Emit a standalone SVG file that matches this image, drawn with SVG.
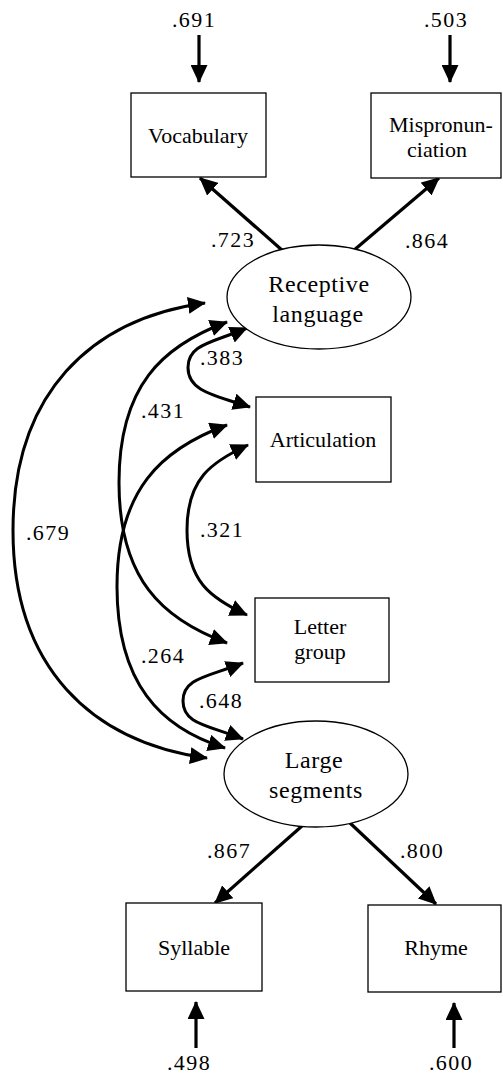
<svg xmlns="http://www.w3.org/2000/svg" width="503" height="1076" viewBox="0 0 503 1076">
<style>
.box{fill:#fff;stroke:#000;stroke-width:1.3}
.ell{fill:#fff;stroke:#000;stroke-width:1.3}
.t{font-family:"Liberation Serif","Times New Roman",serif;font-size:22px;fill:#000;text-anchor:middle}
.te{font-family:"Liberation Serif","Times New Roman",serif;font-size:24px;letter-spacing:0.6px;fill:#000;text-anchor:middle}
.n{font-family:"Liberation Serif","Times New Roman",serif;font-size:22px;letter-spacing:1.4px;fill:#000;text-anchor:middle}
.s{fill:none;stroke:#000;stroke-width:3.2;marker-end:url(#ah)}
.c{fill:none;stroke:#000;stroke-width:3;marker-start:url(#ah);marker-end:url(#ah)}
</style>
<defs>
<marker id="ah" viewBox="0 0 18 17" refX="17" refY="8.5" markerWidth="18" markerHeight="17" markerUnits="userSpaceOnUse" orient="auto-start-reverse">
<path d="M0,0 L18,8.5 L0,17 z" fill="#000"/>
</marker>
</defs>
<rect width="503" height="1076" fill="#fff"/>

<g id="connectors">
<line class="s" x1="199" y1="35" x2="199" y2="82"/>
<line class="s" x1="450" y1="35" x2="450" y2="82"/>
<line class="s" x1="283" y1="251" x2="200" y2="178"/>
<line class="s" x1="353" y1="251" x2="439" y2="178"/>
<line class="s" x1="302" y1="826" x2="215" y2="903"/>
<line class="s" x1="350" y1="823" x2="436" y2="904"/>
<line class="s" x1="196" y1="1048" x2="196" y2="1002"/>
<line class="s" x1="454" y1="1048" x2="454" y2="1003"/>
<path class="c" d="M205,303 C90,319 13,394 13,530.5 C13,667 91,742 207,758"/>
<path class="c" d="M227,322 C162,346 119,386 119,482.5 C119,579 162,619 227,643"/>
<path class="c" d="M227,425 C161,449 117,490 117,586.5 C117,683 160,728 225,748"/>
<path class="c" d="M247,328 C212,343 188,344 188,367.5 C188,391 213,395 250,407"/>
<path class="c" d="M248,445 C211,462 187,479 187,530 C187,581 210,598 247,615"/>
<path class="c" d="M243,663 C207,677 183,678 183,701 C183,724 207,725 243,739"/>
</g>

<g id="labels">
<text class="n" x="194" y="27">.691</text>
<text class="n" x="446" y="27">.503</text>
<text class="n" x="233" y="247">.723</text>
<text class="n" x="427" y="248">.864</text>
<text class="n" x="222" y="365">.383</text>
<text class="n" x="163" y="418">.431</text>
<text class="n" x="48" y="540">.679</text>
<text class="n" x="222" y="537">.321</text>
<text class="n" x="163" y="663">.264</text>
<text class="n" x="221" y="708">.648</text>
<text class="n" x="229" y="858">.867</text>
<text class="n" x="422" y="858">.800</text>
<text class="n" x="189" y="1070">.498</text>
<text class="n" x="451" y="1070">.600</text>
</g>

<g id="vocabulary">
<rect class="box" x="131" y="93" width="135" height="84"/>
<text class="t" x="198" y="143">Vocabulary</text>
</g>
<g id="mispronunciation">
<rect class="box" x="371" y="93" width="130" height="85"/>
<text class="t" x="441" y="132">Mispronun-</text>
<text class="t" x="437" y="157">ciation</text>
</g>
<g id="receptive-language">
<ellipse class="ell" cx="319" cy="297" rx="92" ry="52"/>
<text class="te" x="319" y="292">Receptive</text>
<text class="te" x="318" y="322">language</text>
</g>
<g id="articulation">
<rect class="box" x="256" y="397" width="135" height="85"/>
<text class="t" x="323" y="447">Articulation</text>
</g>
<g id="letter-group">
<rect class="box" x="255" y="598" width="134" height="84"/>
<text class="t" x="320" y="634">Letter</text>
<text class="t" x="320" y="659">group</text>
</g>
<g id="large-segments">
<ellipse class="ell" cx="316" cy="774" rx="92" ry="53"/>
<text class="te" x="314" y="768">Large</text>
<text class="te" x="316" y="798">segments</text>
</g>
<g id="syllable">
<rect class="box" x="126" y="903" width="136" height="88"/>
<text class="t" x="194" y="955">Syllable</text>
</g>
<g id="rhyme">
<rect class="box" x="368" y="905" width="133" height="87"/>
<text class="t" x="436" y="955">Rhyme</text>
</g>
</svg>
